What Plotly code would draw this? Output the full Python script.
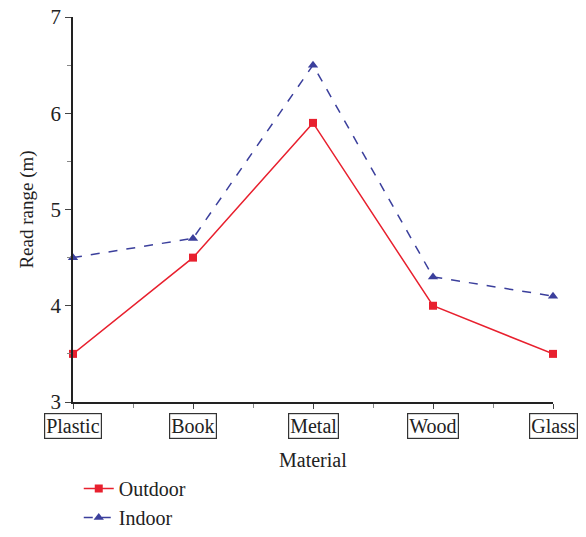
import plotly.graph_objects as go

categories = ["Plastic", "Book", "Metal", "Wood", "Glass"]
outdoor = [3.5, 4.5, 5.9, 4.0, 3.5]
indoor = [4.5, 4.7, 6.5, 4.3, 4.1]
y_ticks = [3, 4, 5, 6, 7]

FONT = "Liberation Serif"
xs = list(range(len(categories)))

H = 537
TOP = 17
PH = H - TOP  # paper height with b=0


def py(pix):
    return (H - pix) / PH


fig = go.Figure()
fig.add_trace(go.Scatter(
    x=xs, y=outdoor, name="Outdoor", mode="lines+markers",
    line=dict(color="#e8202e", width=1.5),
    marker=dict(symbol="square", size=8, color="#e8202e"),
    cliponaxis=False,
))
fig.add_trace(go.Scatter(
    x=xs, y=indoor, name="Indoor", mode="lines+markers",
    line=dict(color="#3b3f9c", width=1.5, dash="dash"),
    marker=dict(symbol="triangle-up", size=9, color="#3b3f9c"),
    cliponaxis=False,
))

for i, c in enumerate(categories):
    fig.add_annotation(
        x=i, y=py(426), xref="x", yref="paper", text=c, showarrow=False,
        yanchor="middle", xanchor="center",
        font=dict(family=FONT, size=20, color="#222"),
        bordercolor="#333", borderwidth=1.2, borderpad=1,
    )

fig.add_annotation(
    x=0.5, y=py(460), xref="paper", yref="paper", text="Material", showarrow=False,
    yanchor="middle", xanchor="center", font=dict(family=FONT, size=20, color="#222"),
)

fig.update_layout(
    width=586, height=H,
    margin=dict(l=73, r=33, t=TOP, b=0),
    paper_bgcolor="white", plot_bgcolor="white",
    font=dict(family=FONT, size=20, color="#222"),
    showlegend=True,
    legend=dict(
        x=0.012, y=0.0, xanchor="left", yanchor="bottom",
        font=dict(family=FONT, size=20, color="#222"),
        tracegroupgap=0, itemwidth=30,
    ),
    xaxis=dict(
        range=[0, 4], tickvals=xs, showticklabels=False, automargin=False,
        showline=True, linecolor="#222", linewidth=1.5,
        ticks="outside", ticklen=5, tickcolor="#444", showgrid=False, zeroline=False,
        minor=dict(ticks="outside", ticklen=4, dtick=0.5, tick0=0, tickcolor="#888"),
    ),
    yaxis=dict(
        range=[3, 7], tickvals=y_ticks, domain=[py(402), 1], automargin=False,
        showline=True, linecolor="#222", linewidth=1.5,
        ticks="outside", ticklen=6, tickcolor="#444", showgrid=False, zeroline=False,
        minor=dict(ticks="outside", ticklen=4, dtick=0.5, tick0=3, tickcolor="#888"),
        tickfont=dict(family=FONT, size=21),
        title=dict(text="Read range (m)", font=dict(family=FONT, size=19), standoff=12),
    ),
)

fig.write_html("out.html")
